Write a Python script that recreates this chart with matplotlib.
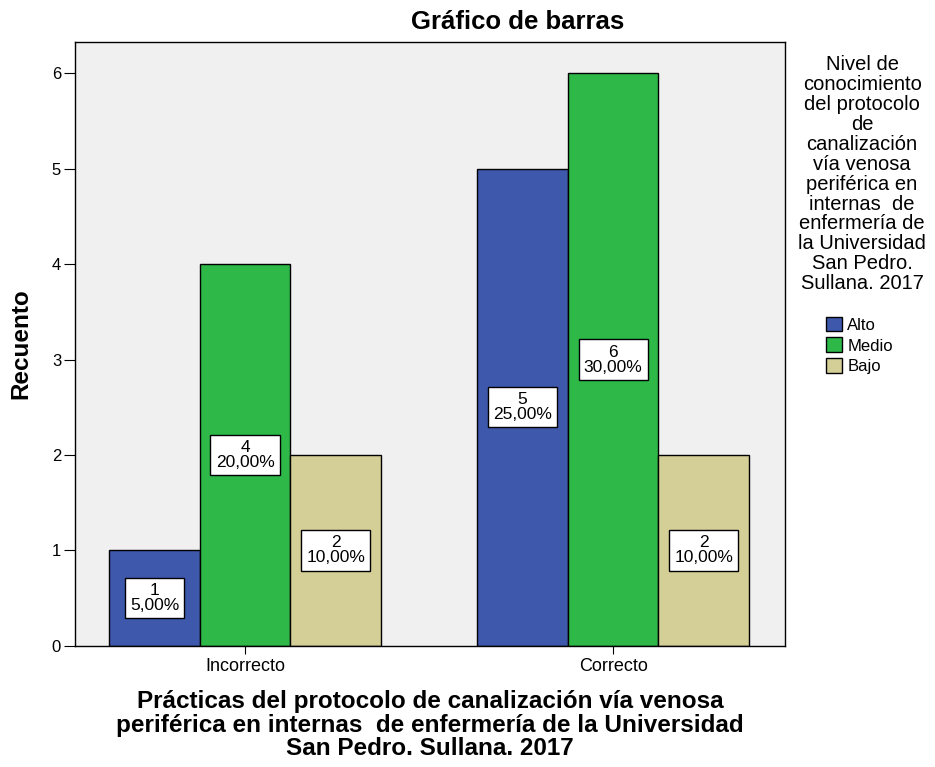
import numpy as np
import matplotlib.pyplot as plt
from matplotlib.patches import Patch

plt.rcParams['font.family'] = ['Liberation Sans', 'DejaVu Sans']

categories = ['Incorrecto', 'Correcto']
levels = ['Alto', 'Medio', 'Bajo']
counts = {
    'Alto': [1, 5],
    'Medio': [4, 6],
    'Bajo': [2, 2],
}
percents = {
    'Alto': ['5,00%', '25,00%'],
    'Medio': ['20,00%', '30,00%'],
    'Bajo': ['10,00%', '10,00%'],
}
colors = {'Alto': '#3E58AC', 'Medio': '#2EB848', 'Bajo': '#D4CE97'}

legend_title = ("Nivel de\nconocimiento\ndel protocolo\nde\ncanalización\nvía venosa\n"
                "periférica en\ninternas  de\nenfermería de\nla Universidad\nSan Pedro.\nSullana. 2017")
xlabel = ("Prácticas del protocolo de canalización vía venosa\n"
          "periférica en internas  de enfermería de la Universidad\n"
          "San Pedro. Sullana. 2017")

fig = plt.figure(figsize=(9.35, 7.67), dpi=100)
ax = fig.add_axes([0.0802, 0.1578, 0.7594, 0.7874])
ax.set_facecolor('#F0F0F0')

x = np.arange(len(categories))
width = 0.246

for i, lvl in enumerate(levels):
    pos = x + (i - 1) * width
    ax.bar(pos, counts[lvl], width, color=colors[lvl], edgecolor='black', linewidth=1)
    for px, val, pct in zip(pos, counts[lvl], percents[lvl]):
        ax.text(px, val / 2, f"{val}\n{pct}", ha='center', va='center', fontsize=12.5,
                linespacing=1.0,
                bbox=dict(boxstyle='square,pad=0.3', facecolor='white', edgecolor='black', linewidth=1))

ax.set_xlim(-0.462, 1.467)
ax.set_ylim(0, 6.325)
ax.set_xticks(x)
ax.set_xticklabels(categories, fontsize=13)
ax.set_yticks(range(7))
ax.tick_params(axis='y', labelsize=12, direction='out', length=8, pad=2)
ax.tick_params(axis='x', direction='out', length=6, pad=3)
for s in ax.spines.values():
    s.set_linewidth(1)

# titles placed in figure coords, like the SPSS layout
fig.text(0.554, 0.971, 'Gráfico de barras', ha='center', va='center', fontsize=18.5, fontweight='bold')
fig.text(0.0225, 0.5515, 'Recuento', rotation=90, ha='center', va='center', fontsize=17.5, fontweight='bold')
fig.text(0.46, 0.0545, xlabel, ha='center', va='center', fontsize=17.5, fontweight='bold', linespacing=1.02)

fig.text(0.922, 0.928, legend_title, ha='center', va='top', fontsize=14.5, linespacing=1.06)

handles = [Patch(facecolor=colors[l], edgecolor='black', label=l) for l in levels]
fig.legend(handles=handles, loc='upper left', bbox_to_anchor=(0.876, 0.596), frameon=False,
           fontsize=12, handlelength=1.0, handleheight=1.0, handletextpad=0.3,
           labelspacing=0.28, borderaxespad=0)

fig.savefig('out.png', dpi=100)
